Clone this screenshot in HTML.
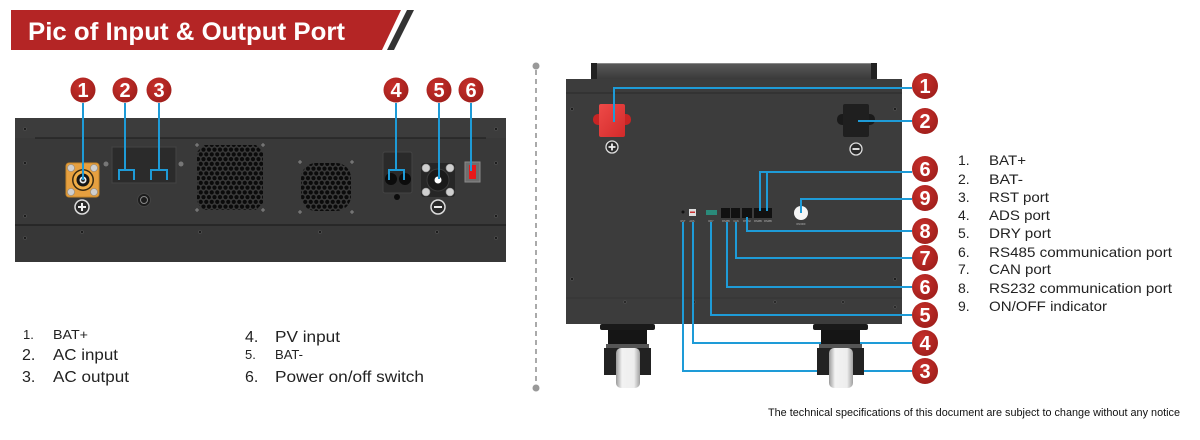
<!DOCTYPE html>
<html><head><meta charset="utf-8">
<style>
html,body{margin:0;padding:0;background:#fff;width:1200px;height:440px;overflow:hidden}
svg{display:block}
text{font-family:"Liberation Sans",Arial,sans-serif}
</style></head><body>
<svg width="1200" height="440" viewBox="0 0 1200 440" xmlns="http://www.w3.org/2000/svg">
<defs>
 <pattern id="hex" width="5.5" height="9.5" patternUnits="userSpaceOnUse">
  <circle cx="2.75" cy="2.4" r="2.1" fill="#0b0b0b"/>
  <circle cx="0" cy="7.15" r="2.1" fill="#0b0b0b"/>
  <circle cx="5.5" cy="7.15" r="2.1" fill="#0b0b0b"/>
 </pattern>
 <radialGradient id="badge" cx="0.4" cy="0.35" r="0.75">
  <stop offset="0" stop-color="#c8302b"/><stop offset="1" stop-color="#9c1d1a"/>
 </radialGradient>
 <linearGradient id="wheel" x1="0" x2="1">
  <stop offset="0" stop-color="#9a9a9a"/><stop offset="0.25" stop-color="#f2f2f2"/><stop offset="0.75" stop-color="#eeeeee"/><stop offset="1" stop-color="#a0a0a0"/>
 </linearGradient>
 <linearGradient id="handle" x1="0" y1="0" x2="0" y2="1">
  <stop offset="0" stop-color="#5a5a5a"/><stop offset="1" stop-color="#3a3a3a"/>
 </linearGradient>
 <linearGradient id="redblk" x1="0" y1="0" x2="1" y2="1">
  <stop offset="0" stop-color="#ee4a48"/><stop offset="1" stop-color="#d22a2a"/>
 </linearGradient>
</defs>

<!-- Header -->
<polygon points="11,10 401,10 382,50 11,50" fill="#b42525"/>
<polygon points="407,10 414,10 394,50 387,50" fill="#333"/>
<text x="28" y="40" font-size="25" font-weight="bold" fill="#fff" textLength="317" lengthAdjust="spacingAndGlyphs">Pic of Input &amp; Output Port</text>

<!-- Left device -->
<rect x="15" y="118" width="491" height="144" fill="#393939"/>
<rect x="15" y="118" width="491" height="20" fill="#3c3c3c"/>
<line x1="35" y1="138" x2="486" y2="138" stroke="#262626" stroke-width="1.5"/>
<rect x="15" y="225" width="491" height="37" fill="#373737"/>
<line x1="15" y1="225" x2="506" y2="225" stroke="#222" stroke-width="1.5"/>
<g fill="#1c1c1c" stroke="#555" stroke-width="0.6">
 <circle cx="25" cy="129" r="1.5"/><circle cx="496" cy="129" r="1.5"/>
 <circle cx="25" cy="163" r="1.5"/><circle cx="496" cy="163" r="1.5"/>
 <circle cx="25" cy="216" r="1.5"/><circle cx="496" cy="216" r="1.5"/>
 <circle cx="25" cy="238" r="1.5"/><circle cx="496" cy="238" r="1.5"/>
 <circle cx="82" cy="232" r="1.5"/><circle cx="200" cy="232" r="1.5"/>
 <circle cx="320" cy="232" r="1.5"/><circle cx="437" cy="232" r="1.5"/>
</g>

<!-- BAT+ -->
<rect x="66" y="163" width="33" height="34" rx="3" fill="#e6a040" stroke="#c88628"/>
<g fill="#cfcfcf" stroke="#888" stroke-width="0.6">
 <circle cx="71" cy="168" r="3.5"/><circle cx="94" cy="168" r="3.5"/>
 <circle cx="71" cy="192" r="3.5"/><circle cx="94" cy="192" r="3.5"/>
</g>
<circle cx="83" cy="180" r="11" fill="#3a2a10"/>
<circle cx="83" cy="180" r="9.5" fill="#f0ae48"/>
<circle cx="83" cy="180" r="6.5" fill="#151515"/>
<circle cx="83" cy="180" r="3.5" fill="#eee"/>
<circle cx="83" cy="180" r="1.8" fill="#222"/>
<circle cx="82" cy="207" r="7" fill="#2a2a2a" stroke="#ddd" stroke-width="1.5"/>
<path d="M78 207H86M82 203V211" stroke="#eee" stroke-width="2"/>

<!-- AC box -->
<rect x="112" y="147" width="64" height="36" fill="#2b2b2b" stroke="#444"/>
<circle cx="106" cy="164" r="2.5" fill="#777"/><circle cx="181" cy="164" r="2.5" fill="#777"/>
<circle cx="144" cy="200" r="6.5" fill="#1c1c1c" stroke="#444"/>
<circle cx="144" cy="200" r="3.5" fill="none" stroke="#888" stroke-width="1"/>

<!-- Fans -->
<path d="M204 145H256L263 152V203L256 210H204L197 203V152Z" fill="url(#hex)"/>
<g stroke="#888" stroke-width="1">
 <path d="M195 145h4M197 143v4M261 145h4M263 143v4M195 210h4M197 208v4M261 210h4M263 208v4"/>
 <path d="M298 162h4M300 160v4M350 162h4M352 160v4M298 212h4M300 210v4M350 212h4M352 210v4"/>
</g>
<rect x="301" y="163" width="50" height="48" rx="15" fill="url(#hex)"/>

<!-- PV box -->
<rect x="383" y="152" width="29" height="41" rx="2" fill="#2a2a2a" stroke="#444"/>
<circle cx="391" cy="179" r="6" fill="#0c0c0c"/><circle cx="405" cy="179" r="6" fill="#0c0c0c"/>
<circle cx="397" cy="197" r="3" fill="#0c0c0c"/>

<!-- BAT- -->
<rect x="421" y="163" width="34" height="34" rx="3" fill="#262626"/>
<g fill="#cfcfcf" stroke="#888" stroke-width="0.6">
 <circle cx="426" cy="168" r="4"/><circle cx="450" cy="168" r="4"/>
 <circle cx="426" cy="192" r="4"/><circle cx="450" cy="192" r="4"/>
</g>
<circle cx="438" cy="180" r="11" fill="#1a1a1a" stroke="#3a3a3a"/>
<circle cx="438" cy="180" r="3.5" fill="#fff"/>
<circle cx="438" cy="207" r="7" fill="#2a2a2a" stroke="#ddd" stroke-width="1.5"/>
<path d="M434 207H442" stroke="#eee" stroke-width="2"/>

<!-- Switch -->
<rect x="465" y="162" width="15" height="20" fill="#6e6e6e" stroke="#8a8a8a"/>
<rect x="469" y="165" width="7" height="14" fill="#e8191a"/>

<!-- Left blue lines -->
<g stroke="#1e9bd7" stroke-width="2" fill="none">
 <path d="M83 103V180"/>
 <path d="M125 103V170M119 180V170H134V180"/>
 <path d="M159 103V170M151 180V170H167V180"/>
 <path d="M396 103V170M389 180V170H404V180"/>
 <path d="M439 103V179"/>
 <path d="M471 103V171"/>
</g>

<!-- Left badges -->
<g font-size="20" font-weight="bold" fill="#fff" text-anchor="middle">
 <circle cx="83" cy="90" r="12.5" fill="url(#badge)"/><text x="83" y="97">1</text>
 <circle cx="125" cy="90" r="12.5" fill="url(#badge)"/><text x="125" y="97">2</text>
 <circle cx="159" cy="90" r="12.5" fill="url(#badge)"/><text x="159" y="97">3</text>
 <circle cx="396" cy="90" r="12.5" fill="url(#badge)"/><text x="396" y="97">4</text>
 <circle cx="439" cy="90" r="12.5" fill="url(#badge)"/><text x="439" y="97">5</text>
 <circle cx="471" cy="90" r="12.5" fill="url(#badge)"/><text x="471" y="97">6</text>
</g>

<!-- Left legend -->
<g fill="#222">
 <text x="23" y="339" font-size="13">1.</text>
 <text x="53" y="339" font-size="13" textLength="35" lengthAdjust="spacingAndGlyphs">BAT+</text>
 <text x="22" y="360" font-size="16">2.</text>
 <text x="53" y="360" font-size="16" textLength="65" lengthAdjust="spacingAndGlyphs">AC input</text>
 <text x="22" y="382" font-size="16">3.</text>
 <text x="53" y="382" font-size="16" textLength="76" lengthAdjust="spacingAndGlyphs">AC output</text>
 <text x="245" y="342" font-size="16">4.</text>
 <text x="275" y="342" font-size="16" textLength="65" lengthAdjust="spacingAndGlyphs">PV input</text>
 <text x="245" y="359" font-size="13">5.</text>
 <text x="275" y="359" font-size="13" textLength="28" lengthAdjust="spacingAndGlyphs">BAT-</text>
 <text x="245" y="382" font-size="16">6.</text>
 <text x="275" y="382" font-size="16" textLength="149" lengthAdjust="spacingAndGlyphs">Power on/off switch</text>
</g>

<!-- Divider -->
<line x1="536" y1="70" x2="536" y2="385" stroke="#aaa" stroke-width="2" stroke-dasharray="5 4"/>
<circle cx="536" cy="66" r="3.5" fill="#999"/>
<circle cx="536" cy="388" r="3.5" fill="#999"/>

<!-- Right device -->
<rect x="591" y="63" width="286" height="16" fill="url(#handle)"/>
<line x1="591" y1="63.5" x2="877" y2="63.5" stroke="#888"/>
<rect x="591" y="63" width="6" height="16" fill="#222"/>
<rect x="871" y="63" width="6" height="16" fill="#222"/>
<rect x="566" y="79" width="336" height="245" fill="#3c3c3c"/>
<line x1="566" y1="93" x2="902" y2="93" stroke="#2a2a2a" stroke-width="1"/>
<line x1="566" y1="298" x2="902" y2="298" stroke="#353535" stroke-width="1"/>
<g fill="#1c1c1c" stroke="#555" stroke-width="0.6">
 <circle cx="572" cy="109" r="1.5"/><circle cx="895" cy="109" r="1.5"/>
 <circle cx="572" cy="279" r="1.5"/><circle cx="895" cy="279" r="1.5"/>
 <circle cx="625" cy="302" r="1.3"/><circle cx="694" cy="302" r="1.3"/>
 <circle cx="775" cy="302" r="1.3"/><circle cx="843" cy="302" r="1.3"/>
 <circle cx="895" cy="307" r="1.3"/>
</g>

<!-- red/black blocks -->
<rect x="593" y="114" width="38" height="11" rx="5" fill="#c92424"/>
<rect x="599" y="104" width="26" height="33" rx="2" fill="url(#redblk)"/>
<circle cx="612" cy="147" r="6" fill="#2a2a2a" stroke="#ddd" stroke-width="1.3"/>
<path d="M608.5 147H615.5M612 143.5V150.5" stroke="#eee" stroke-width="1.8"/>
<rect x="837" y="114" width="38" height="11" rx="5" fill="#1a1a1a"/>
<rect x="843" y="104" width="26" height="33" rx="2" fill="#1f1f1f"/>
<circle cx="856" cy="149" r="6" fill="#2a2a2a" stroke="#ddd" stroke-width="1.3"/>
<path d="M852.5 149H859.5" stroke="#eee" stroke-width="1.8"/>

<!-- ports -->
<circle cx="683" cy="212" r="1.5" fill="#111"/>
<rect x="689" y="209" width="7" height="7" fill="#ddd"/>
<rect x="690" y="211.5" width="5" height="1.5" fill="#c33"/>
<rect x="706" y="210" width="11" height="5" fill="#2a8a7a"/>
<rect x="721" y="208" width="9" height="10" fill="#111"/>
<rect x="731" y="208" width="9" height="10" fill="#111"/>
<rect x="742" y="208" width="10" height="10" fill="#111"/>
<rect x="754" y="208" width="9" height="10" fill="#111"/>
<rect x="763" y="208" width="9" height="10" fill="#111"/>
<circle cx="801" cy="213" r="7" fill="#f5f5f5"/>
<g font-size="2.5" fill="#bbb" text-anchor="middle">
 <text x="683" y="222">RST</text><text x="692" y="222">ADS</text><text x="711" y="222">DRY</text>
 <text x="726" y="222">RS485</text><text x="736" y="222">CAN</text><text x="747" y="222">RS232</text>
 <text x="758" y="222">RS485</text><text x="768" y="222">RS485</text><text x="801" y="225">ON/OFF</text>
</g>

<!-- Right blue lines -->
<g stroke="#1e9bd7" stroke-width="2" fill="none">
 <path d="M614 122V88H912"/>
 <path d="M858 121H912"/>
 <path d="M760 211V172H912M767 211V172"/>
 <path d="M801 213V199H912"/>
 <path d="M747 217V231H912"/>
 <path d="M736 222V258H912"/>
 <path d="M727 222V287H912"/>
 <path d="M711 222V315H912"/>
 <path d="M693 222V343H912"/>
 <path d="M683 222V371H912"/>
</g>

<!-- Wheels -->
<g>
 <rect x="600" y="324" width="55" height="6" rx="2" fill="#1a1a1a"/>
 <rect x="608" y="330" width="39" height="16" fill="#151515"/>
 <rect x="606" y="344" width="43" height="4" fill="#555"/>
 <rect x="604" y="348" width="47" height="27" fill="#222"/>
 <rect x="616" y="348" width="24" height="40" rx="5" fill="url(#wheel)"/>
 <rect x="813" y="324" width="55" height="6" rx="2" fill="#1a1a1a"/>
 <rect x="821" y="330" width="39" height="16" fill="#151515"/>
 <rect x="819" y="344" width="43" height="4" fill="#555"/>
 <rect x="817" y="348" width="47" height="27" fill="#222"/>
 <rect x="829" y="348" width="24" height="40" rx="5" fill="url(#wheel)"/>
</g>

<!-- Right badges -->
<g font-size="20" font-weight="bold" fill="#fff" text-anchor="middle">
 <circle cx="925" cy="86" r="13" fill="url(#badge)"/><text x="925" y="93">1</text>
 <circle cx="925" cy="121" r="13" fill="url(#badge)"/><text x="925" y="128">2</text>
 <circle cx="925" cy="169" r="13" fill="url(#badge)"/><text x="925" y="176">6</text>
 <circle cx="925" cy="198" r="13" fill="url(#badge)"/><text x="925" y="205">9</text>
 <circle cx="925" cy="231" r="13" fill="url(#badge)"/><text x="925" y="238">8</text>
 <circle cx="925" cy="258" r="13" fill="url(#badge)"/><text x="925" y="265">7</text>
 <circle cx="925" cy="287" r="13" fill="url(#badge)"/><text x="925" y="294">6</text>
 <circle cx="925" cy="315" r="13" fill="url(#badge)"/><text x="925" y="322">5</text>
 <circle cx="925" cy="343" r="13" fill="url(#badge)"/><text x="925" y="350">4</text>
 <circle cx="925" cy="371" r="13" fill="url(#badge)"/><text x="925" y="378">3</text>
</g>

<!-- Right legend -->
<g fill="#222" font-size="14">
 <text x="958" y="165">1.</text><text x="989" y="165" textLength="37" lengthAdjust="spacingAndGlyphs">BAT+</text>
 <text x="958" y="184">2.</text><text x="989" y="184" textLength="34" lengthAdjust="spacingAndGlyphs">BAT-</text>
 <text x="958" y="202">3.</text><text x="989" y="202" textLength="60" lengthAdjust="spacingAndGlyphs">RST port</text>
 <text x="958" y="220">4.</text><text x="989" y="220" textLength="61" lengthAdjust="spacingAndGlyphs">ADS port</text>
 <text x="958" y="238">5.</text><text x="989" y="238" textLength="62" lengthAdjust="spacingAndGlyphs">DRY port</text>
 <text x="958" y="257">6.</text><text x="989" y="257" textLength="183" lengthAdjust="spacingAndGlyphs">RS485 communication port</text>
 <text x="958" y="274">7.</text><text x="989" y="274" textLength="62" lengthAdjust="spacingAndGlyphs">CAN port</text>
 <text x="958" y="293">8.</text><text x="989" y="293" textLength="183" lengthAdjust="spacingAndGlyphs">RS232 communication port</text>
 <text x="958" y="311">9.</text><text x="989" y="311" textLength="118" lengthAdjust="spacingAndGlyphs">ON/OFF indicator</text>
</g>

<text x="768" y="416" font-size="11" fill="#111" textLength="412" lengthAdjust="spacingAndGlyphs">The technical specifications of this document are subject to change without any notice</text>
</svg>
</body></html>
